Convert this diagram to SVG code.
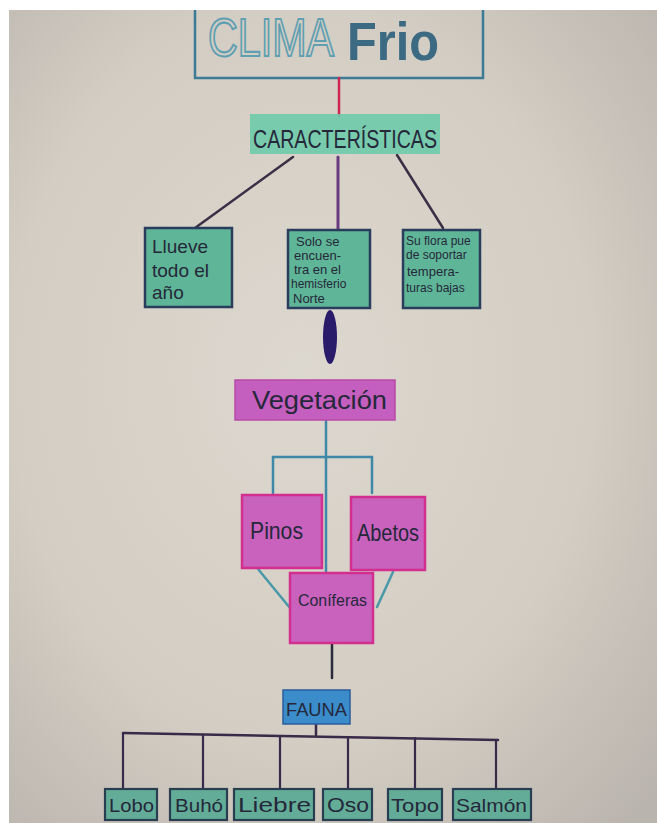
<svg xmlns="http://www.w3.org/2000/svg" width="657" height="823" viewBox="0 0 657 823">
<defs>
<radialGradient id="paper" cx="0.45" cy="0.45" r="0.75">
<stop offset="0" stop-color="#ddd8cf"/>
<stop offset="0.6" stop-color="#d3cdc3"/>
<stop offset="1" stop-color="#b9b4ad"/>
</radialGradient>
<style>
.hand{font-family:"Liberation Sans","DejaVu Sans",sans-serif;fill:#25283a}
.tealbox{fill:#5fb597;stroke:#2b3d5c;stroke-width:2.5}
.pinkbox{fill:#c862bd;stroke:#d22f8e;stroke-width:2.5}
.animal{fill:#63ad98;stroke:#2a3e52;stroke-width:2.2}
.line{fill:none;stroke-linecap:round}
</style>
</defs>
<rect x="0" y="0" width="657" height="823" fill="#ffffff"/>
<rect x="9" y="10" width="648" height="813" fill="url(#paper)"/>

<g id="titulo">
<path d="M195,10 V78 H483 V10" fill="none" stroke="#3c7a96" stroke-width="2.5"/>
<text transform="translate(208,56) scale(1,1.3)" x="0" y="0" font-family="Liberation Sans,sans-serif" font-size="41" fill="none" stroke="#5f9fb2" stroke-width="1.6" textLength="126" lengthAdjust="spacingAndGlyphs">CLIMA</text>
<text transform="translate(347,60) scale(1,1.1)" x="0" y="0" font-family="Liberation Sans,sans-serif" font-weight="bold" font-size="48" fill="#3b6a82" textLength="92" lengthAdjust="spacingAndGlyphs">Frio</text>
</g>

<g id="connectors">
<line class="line" x1="339" y1="78" x2="339" y2="116" stroke="#d0264f" stroke-width="2.5"/>
<line class="line" x1="293" y1="157" x2="195" y2="228" stroke="#3b2f45" stroke-width="2.5"/>
<line class="line" x1="338" y1="157" x2="338" y2="230" stroke="#6a3a80" stroke-width="3"/>
<line class="line" x1="397" y1="155" x2="443" y2="228" stroke="#3b2f45" stroke-width="2.5"/>
<ellipse cx="330" cy="337" rx="7" ry="27" fill="#2a1a6a"/>
<line class="line" x1="326" y1="420" x2="326" y2="573" stroke="#3f88a8" stroke-width="2.5"/>
<polyline class="line" points="273,493 273,457 372,457 372,493" stroke="#3f88a8" stroke-width="2.5"/>
<line class="line" x1="258" y1="569" x2="290" y2="608" stroke="#4a98a8" stroke-width="2.5"/>
<line class="line" x1="393" y1="572" x2="377" y2="607" stroke="#4a98a8" stroke-width="2.5"/>
<line class="line" x1="332" y1="643" x2="332" y2="678" stroke="#2a2a3a" stroke-width="2.5"/>
<line class="line" x1="316" y1="724" x2="316" y2="735" stroke="#3a2a4a" stroke-width="2.5"/>
<line class="line" x1="123" y1="733" x2="498" y2="740" stroke="#3a2a4a" stroke-width="2.5"/>
<g stroke="#3a2a4a" stroke-width="2.2" class="line">
<line x1="123" y1="733" x2="123" y2="789"/>
<line x1="203" y1="735" x2="203" y2="789"/>
<line x1="280" y1="736" x2="280" y2="789"/>
<line x1="348" y1="737" x2="348" y2="789"/>
<line x1="415" y1="738" x2="415" y2="789"/>
<line x1="496" y1="740" x2="496" y2="789"/>
</g>
</g>

<g id="caracteristicas">
<rect x="250" y="114" width="190" height="40" fill="#6ecaa9" opacity="0.9"/>
<text class="hand" x="253" y="148" font-size="26" textLength="184" lengthAdjust="spacingAndGlyphs">CARACTERÍSTICAS</text>
</g>

<g id="llueve">
<rect class="tealbox" x="145" y="228" width="87" height="79"/>
<text class="hand" font-size="19" fill="#1e2d38"><tspan x="152" y="253">Llueve</tspan><tspan x="152" y="277">todo el</tspan><tspan x="152" y="299">año</tspan></text>
</g>

<g id="hemisferio">
<rect class="tealbox" x="288" y="230" width="82" height="78"/>
<text class="hand" font-size="13" fill="#1e2d38"><tspan x="296" y="246">Solo se</tspan><tspan x="294" y="260">encuen-</tspan><tspan x="294" y="274">tra en el</tspan><tspan x="291" y="288" font-size="12">hemisferio</tspan><tspan x="293" y="303">Norte</tspan></text>
</g>

<g id="flora">
<rect class="tealbox" x="403" y="230" width="77" height="78"/>
<text class="hand" font-size="12" fill="#1e2d38"><tspan x="406" y="245">Su flora pue</tspan><tspan x="406" y="259">de soportar</tspan><tspan x="407" y="276" font-size="13">tempera-</tspan><tspan x="406" y="292">turas bajas</tspan></text>
</g>

<g id="vegetacion">
<rect x="235" y="380" width="160" height="40" fill="#c55fbf" stroke="#b84aa8" stroke-width="1.5"/>
<text class="hand" x="252" y="409" font-size="26" textLength="135" lengthAdjust="spacingAndGlyphs">Vegetación</text>
</g>

<g id="pinos">
<rect class="pinkbox" x="242" y="495" width="80" height="73"/>
<text class="hand" x="250" y="539" font-size="24" textLength="53" lengthAdjust="spacingAndGlyphs">Pinos</text>
</g>

<g id="abetos">
<rect class="pinkbox" x="351" y="497" width="74" height="73"/>
<text class="hand" x="357" y="541" font-size="24" textLength="62" lengthAdjust="spacingAndGlyphs">Abetos</text>
</g>

<g id="coniferas">
<rect class="pinkbox" x="290" y="573" width="83" height="70"/>
<text class="hand" x="298" y="606" font-size="16" textLength="69" lengthAdjust="spacingAndGlyphs">Coníferas</text>
</g>

<g id="fauna">
<rect x="283" y="690" width="67" height="34" fill="#3a8ccb" stroke="#2a5e9c" stroke-width="1.5"/>
<text class="hand" x="286" y="716" font-size="18" fill="#1a2a50" textLength="61" lengthAdjust="spacingAndGlyphs">FAUNA</text>
</g>

<g id="lobo"><rect class="animal" x="105" y="789" width="52" height="31"/><text class="hand" x="109" y="812" font-size="19" textLength="45" lengthAdjust="spacingAndGlyphs">Lobo</text></g>
<g id="buho"><rect class="animal" x="170" y="789" width="57" height="31"/><text class="hand" x="175" y="812" font-size="19" textLength="48" lengthAdjust="spacingAndGlyphs">Buhó</text></g>
<g id="liebre"><rect class="animal" x="234" y="789" width="80" height="31"/><text class="hand" x="238" y="812" font-size="21" textLength="73" lengthAdjust="spacingAndGlyphs">Liebre</text></g>
<g id="oso"><rect class="animal" x="323" y="789" width="49" height="31"/><text class="hand" x="327" y="812" font-size="21" textLength="42" lengthAdjust="spacingAndGlyphs">Oso</text></g>
<g id="topo"><rect class="animal" x="388" y="789" width="54" height="31"/><text class="hand" x="391" y="812" font-size="19" textLength="48" lengthAdjust="spacingAndGlyphs">Topo</text></g>
<g id="salmon"><rect class="animal" x="453" y="789" width="78" height="31"/><text class="hand" x="456" y="812" font-size="19" textLength="71" lengthAdjust="spacingAndGlyphs">Salmón</text></g>
</svg>
